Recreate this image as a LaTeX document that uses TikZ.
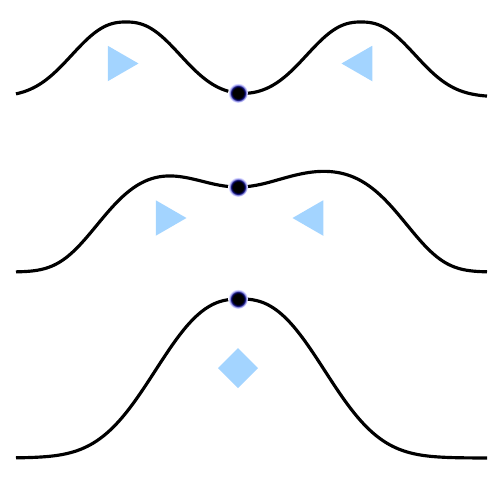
\documentclass[tikz,border=0pt]{standalone}
\usetikzlibrary{shapes.geometric}
\definecolor{flowblue}{RGB}{163,212,255}
\pgfdeclareradialshading{blurdot}{\pgfpoint{0bp}{0bp}}{color(0bp)=(black); color(13bp)=(black); color(17bp)=(blue!40!black); color(21bp)=(blue!30!white); color(25bp)=(white); color(50bp)=(white)}
\begin{document}
\begin{tikzpicture}[x=0.02cm, y=-0.02cm,
	curve/.style={line width=1.8pt},
	ball/.style={circle, inner sep=0pt, minimum size=0.4cm, shade, shading=blurdot},
	push/.style={regular polygon, regular polygon sides=3, inner sep=0pt, outer sep=0pt, minimum size=0.82cm, fill=flowblue},
	merge/.style={diamond, inner sep=0pt, outer sep=0pt, minimum size=0.8cm, fill=flowblue}]
	\useasboundingbox (0,0) rectangle (500,487);
	% two separate humps
	\draw [curve] plot [samples = 200, domain = 16:487, smooth] (\x,{97-75*(exp(-pow(abs(\x-126)/68,2.4))+exp(-pow(abs(\x-361)/68,2.4)))});
	\node [push, shape border rotate=-90] (pushTL) at (118,63.5) {};
	\node [push, shape border rotate=90] (pushTR) at (362,63.5) {};
	\node [ball] (ballT) at (238,93) {};
	% humps moving together
	\draw [curve] plot [samples = 200, domain = 16:487, smooth] (\x,{272-105*exp(-pow(abs(\x-252)/162,5))+20*exp(-pow((\x-238)/60,2))});
	\node [push, shape border rotate=-90] (pushML) at (166,218) {};
	\node [push, shape border rotate=90] (pushMR) at (313,218) {};
	\node [ball] (ballM) at (238,187) {};
	% one hump
	\draw [curve] plot [samples = 200, domain = 16:487, smooth] (\x,{458-159*exp(-pow(abs(\x-240)/104,2.5))});
	\node [merge] (mergeB) at (238,368) {};
	\node [ball] (ballB) at (238,299) {};
\end{tikzpicture}
\end{document}
